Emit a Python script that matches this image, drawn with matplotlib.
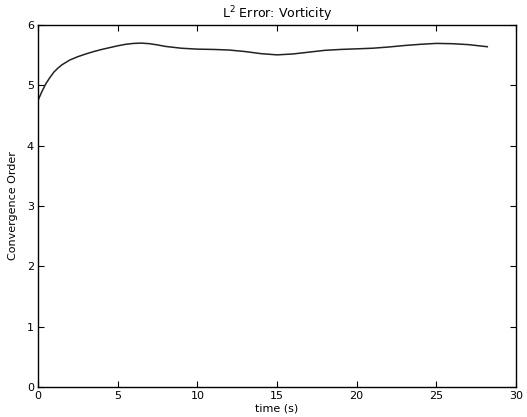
import matplotlib
matplotlib.use("Agg")
import matplotlib.pyplot as plt

# convergence order of the vorticity L2 error over time
time_s = [0, 0.25, 0.5, 0.75, 1, 1.25, 1.5, 2, 2.5, 3, 3.5, 4, 5, 5.5, 6, 6.5,
          7, 7.5, 8, 9, 10, 11, 12, 13, 14, 15, 16, 17, 18, 19, 20, 21, 22,
          23, 24, 25, 26, 27, 28.2]
order = [4.75, 4.90, 5.03, 5.13, 5.22, 5.285, 5.34, 5.42, 5.475, 5.52, 5.56,
         5.595, 5.655, 5.68, 5.695, 5.70, 5.69, 5.67, 5.645, 5.615, 5.60,
         5.595, 5.585, 5.56, 5.525, 5.505, 5.52, 5.55, 5.58, 5.595, 5.605,
         5.615, 5.635, 5.66, 5.68, 5.695, 5.69, 5.675, 5.64]

fig = plt.figure(figsize=(5.27, 4.17), dpi=100)
ax = fig.add_axes([38 / 527, 30 / 417, 478 / 527, 362 / 417])
ax.plot(time_s, order, color='#222222', lw=1.1)
ax.set_xlim(0, 30)
ax.set_ylim(0, 6)
ax.set_xticks(range(0, 31, 5))
ax.set_yticks(range(0, 7))
ax.tick_params(direction='in', top=True, right=True, labelsize=8, length=4, pad=3)
for s in ax.spines.values():
    s.set_linewidth(1.0)
ax.set_xlabel('time (s)', fontsize=8, labelpad=2)
ax.set_ylabel('Convergence Order', fontsize=8, labelpad=6)
ax.set_title('L$^2$ Error: Vorticity', fontsize=9, pad=5)

fig.savefig('out.png', dpi=100)
